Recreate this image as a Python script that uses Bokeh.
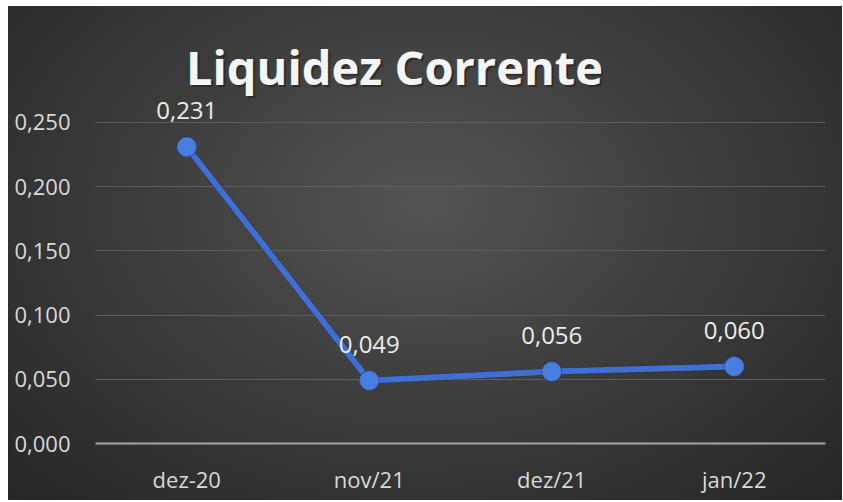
from bokeh.plotting import figure
from bokeh.models import ColumnDataSource, Label, FixedTicker, CustomJSTickFormatter
from bokeh.core.properties import value
from bokeh.embed import file_html
from bokeh.resources import INLINE

categories = ["dez-20", "nov/21", "dez/21", "jan/22"]
values = [0.231, 0.049, 0.056, 0.060]
labels = ["0,231", "0,049", "0,056", "0,060"]
y_ticks = [0.0, 0.05, 0.10, 0.15, 0.20, 0.25]
title_text = "Liquidez Corrente"

src = ColumnDataSource(data=dict(x=categories, y=values, lab=labels))

p = figure(x_range=categories, y_range=(0, 0.3403), width=834, height=494,
           output_backend="svg", toolbar_location=None,
           min_border_left=87, min_border_right=17, min_border_top=0, min_border_bottom=57)
p.x_range.range_padding = 0
p.background_fill_alpha = 0
p.border_fill_alpha = 0
p.outline_line_color = None
p.styles = {"margin": "6px 0px 0px 8px",
            "background": "radial-gradient(ellipse at 50% 40%, #545454 0%, #3e3e3e 45%, #262626 100%)"}

# grid
p.xgrid.grid_line_color = None
p.ygrid.grid_line_color = "#5e5e5e"
p.ygrid.grid_line_width = 1
p.yaxis.ticker = FixedTicker(ticks=y_ticks)
p.yaxis.formatter = CustomJSTickFormatter(code="return tick.toFixed(3).replace('.', ',');")
p.yaxis.axis_line_color = None
p.yaxis.major_tick_line_color = None
p.yaxis.minor_tick_line_color = None
p.yaxis.major_label_text_font = "Open Sans"
p.yaxis.major_label_text_font_size = "22px"
p.yaxis.major_label_text_color = "#d9d9d9"
p.yaxis.major_label_standoff = 19

p.xaxis.axis_line_color = "#a6a6a6"
p.xaxis.axis_line_width = 2
p.xaxis.major_tick_line_color = None
p.xaxis.minor_tick_line_color = None
p.xaxis.major_label_text_font = "Open Sans"
p.xaxis.major_label_text_font_size = "22px"
p.xaxis.major_label_text_color = "#d9d9d9"
p.xaxis.major_label_standoff = 14

# line + markers (with subtle shadow)
p.line("x", "y", source=src, line_color="#1a1a1a", line_width=7, line_alpha=0.35)
p.line("x", "y", source=src, line_color="#3f6fd2", line_width=6)
p.scatter("x", "y", source=src, size=21, fill_color="#1a1a1a", line_color=None, fill_alpha=0.35)
p.scatter("x", "y", source=src, size=19, fill_color="#4a7de0", line_color="#3f6fd2", line_width=1)

p.text("x", "y", text="lab", source=src, y_offset=-36,
       text_align="center", text_baseline="middle",
       text_font=value("Open Sans"), text_font_size="24px", text_color="#ececec")

# title with a soft shadow
p.add_layout(Label(x=301, y=375, x_units="screen", y_units="screen", text=title_text,
                   text_font="Open Sans", text_font_style="bold", text_font_size="47px",
                   text_color="#1e1e1e", text_alpha=0.6, text_align="center",
                   text_baseline="alphabetic"))
p.add_layout(Label(x=299, y=377, x_units="screen", y_units="screen", text=title_text,
                   text_font="Open Sans", text_font_style="bold", text_font_size="47px",
                   text_color="#f5f5f5", text_align="center", text_baseline="alphabetic"))

open("out.html", "w").write(file_html(p, INLINE))
